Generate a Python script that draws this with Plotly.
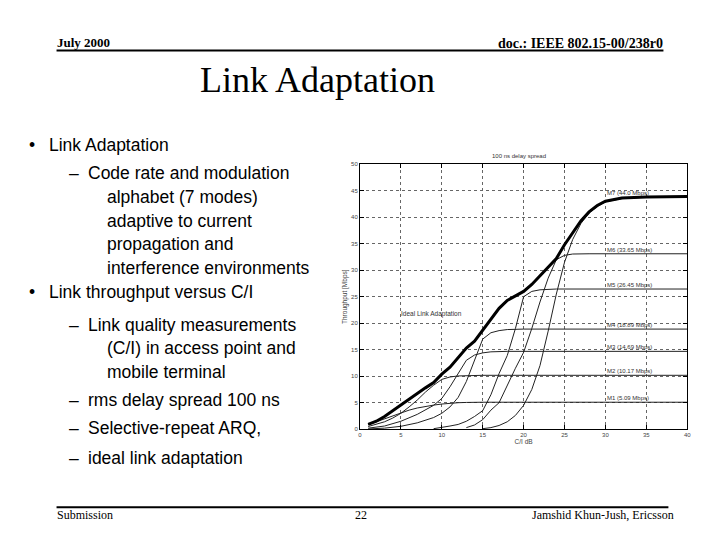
import plotly.graph_objects as go

# ---------------- data ----------------
ideal_x = list(range(1, 31)) + [32, 35, 40]
ideal_y = [0.9, 1.5, 2.4, 3.5, 4.6, 5.6, 6.8, 7.8, 8.8, 10.4,
           11.7, 13.6, 15.3, 16.6, 18.7, 20.8, 22.8, 24.3, 25.2, 26.0,
           27.3, 29.0, 30.6, 32.2, 34.8, 37.1, 39.3, 41.0, 42.2, 43.0,
           43.6, 43.8, 43.9]

m1_x = [1, 2, 3, 4, 5, 6, 7, 8, 9, 10, 11, 12, 13, 15, 40]
m1_y = [0.85, 1.4, 2.0, 2.6, 3.1, 3.6, 4.0, 4.3, 4.55, 4.75, 4.9, 5.0, 5.05, 5.09, 5.09]

m2_x = [1, 2, 3, 4, 5, 6, 7, 8, 9, 10, 11, 12, 13, 15, 40]
m2_y = [0.5, 0.9, 1.4, 2.1, 3.0, 4.2, 5.5, 7.0, 8.3, 9.4, 9.85, 10.05, 10.12, 10.17, 10.17]

m3_x = [1, 3, 5, 7, 9, 10, 11, 12, 13, 14, 15, 16, 18, 40]
m3_y = [0.2, 0.6, 1.5, 2.8, 4.5, 5.8, 8.0, 10.5, 13.0, 14.0, 14.4, 14.6, 14.69, 14.69]

m4_x = [1, 3, 5, 7, 9, 10, 11, 12, 13, 14, 15, 16, 17, 18, 20, 40]
m4_y = [0.05, 0.2, 0.55, 1.2, 2.2, 3.0, 4.2, 6.0, 9.0, 13.0, 17.0, 18.2, 18.6, 18.8, 18.89, 18.89]

m5_x = [9, 10, 11, 12, 13, 14, 15, 16, 17, 18, 19, 20, 21, 22, 24, 40]
m5_y = [0.1, 0.3, 0.6, 0.9, 1.5, 2.4, 3.5, 6.5, 10.5, 13.9, 19.0, 25.0, 26.0, 26.3, 26.45, 26.45]

m6_x = [13, 14, 15, 16, 17, 18, 19, 20, 21, 22, 23, 24, 25, 26, 28, 40]
m6_y = [0.3, 0.8, 1.8, 3.6, 5.0, 8.3, 11.5, 14.5, 19.0, 24.0, 28.5, 32.0, 32.8, 33.05, 33.1, 33.1]

m7_x = [15, 16, 17, 18, 19, 20, 21, 22, 23, 24, 25, 26, 27, 28, 29, 30, 32, 35, 40]
m7_y = [0.1, 0.3, 0.7, 1.4, 2.6, 4.5, 7.5, 12.0, 18.5, 25.5, 31.5, 35.8, 38.8, 40.8, 42.0, 42.9, 43.5, 43.8, 43.9]

mode_labels = ["M1 (5.09 Mbps)", "M2 (10.17 Mbps)", "M3 (14.69 Mbps)", "M4 (18.89 Mbps)",
               "M5 (26.45 Mbps)", "M6 (33.65 Mbps)", "M7 (44.0 Mbps)"]
mode_levels = [5.09, 10.17, 14.69, 18.89, 26.45, 33.1, 43.9]

x_ticks = [0, 5, 10, 15, 20, 25, 30, 35, 40]
y_ticks = [0, 5, 10, 15, 20, 25, 30, 35, 40, 45, 50]

bullet_lines = [
    ("•", "Link Adaptation", 0),
    ("–", "Code rate and modulation", 1),
    ("", "alphabet (7 modes)", 2),
    ("", "adaptive to current", 2),
    ("", "propagation and", 2),
    ("", "interference environments", 2),
    ("•", "Link throughput versus C/I", 0),
    ("–", "Link quality measurements", 1),
    ("", "(C/I) in access point and", 2),
    ("", "mobile terminal", 2),
    ("–", "rms delay spread 100 ns", 1),
    ("–", "Selective-repeat ARQ,", 1),
    ("–", "ideal link adaptation", 1),
]
bullet_y = [144, 172, 196, 220, 244, 268, 292, 326, 349, 373, 401, 430, 460]

# ---------------- figure ----------------
W, H = 720, 540
fig = go.Figure()

modes = [(m1_x, m1_y), (m2_x, m2_y), (m3_x, m3_y), (m4_x, m4_y),
         (m5_x, m5_y), (m6_x, m6_y), (m7_x, m7_y)]
for (xs, ys), name in zip(modes, mode_labels):
    fig.add_trace(go.Scatter(x=xs, y=ys, mode="lines", name=name,
                             line=dict(color="#222222", width=1), showlegend=False))
fig.add_trace(go.Scatter(x=ideal_x, y=ideal_y, mode="lines", name="Ideal Link Adaptation",
                         line=dict(color="black", width=3), showlegend=False))

for lab, lev in zip(mode_labels, mode_levels):
    fig.add_annotation(x=30, y=lev, text=lab, xref="x", yref="y", showarrow=False,
                       xanchor="left", yanchor="bottom", yshift=-1,
                       font=dict(family="Liberation Sans", size=6, color="#333333"))
fig.add_annotation(x=4.8, y=21.8, text="Ideal Link Adaptation", xref="x", yref="y",
                   showarrow=False, xanchor="left", yanchor="middle",
                   font=dict(family="Liberation Sans", size=6.5, color="#333333"))

px0, px1 = 361, 691
py_top, py_bot = 163, 431
axis_common = dict(showline=True, linecolor="black", linewidth=1, mirror="allticks",
                   ticks="inside", ticklen=4, tickcolor="black",
                   showgrid=True, gridcolor="#666666", griddash="dot", gridwidth=1,
                   zeroline=False,
                   tickfont=dict(family="Liberation Sans", size=6, color="#444444"))
fig.update_layout(
    width=W, height=H,
    margin=dict(l=0, r=0, t=0, b=0),
    paper_bgcolor="white", plot_bgcolor="white",
    xaxis=dict(range=[0, 40], tickvals=x_ticks, domain=[px0 / W, px1 / W],
               title=dict(text="C/I dB", standoff=2,
                          font=dict(family="Liberation Sans", size=6.5, color="#444444")),
               **axis_common),
    yaxis=dict(range=[0, 50], tickvals=y_ticks, domain=[1 - py_bot / H, 1 - py_top / H],
               title=dict(text="Throughput [Mbps]", standoff=2,
                          font=dict(family="Liberation Sans", size=6.5, color="#444444")),
               **axis_common),
)

# chart title
fig.add_annotation(x=521 / W, y=1 - 155 / H, xref="paper", yref="paper", text="100 ns delay spread",
                   showarrow=False, xanchor="center", yanchor="middle",
                   font=dict(family="Liberation Sans", size=6, color="#333333"))

# ---------------- slide decorations ----------------
serif = "Liberation Serif"
sans = "Liberation Sans"


def ptext(x, y, text, size, family, anchor="left", bold=False, color="black"):
    fig.add_annotation(x=x / W, y=1 - y / H, xref="paper", yref="paper",
                       text=f"<b>{text}</b>" if bold else text, showarrow=False,
                       xanchor=anchor, yanchor="middle",
                       font=dict(family=family, size=size, color=color))


ptext(53, 40, "July 2000", 13, serif, bold=True)
ptext(669, 41, "doc.: IEEE 802.15-00/238r0", 14, serif, anchor="right", bold=True)
fig.add_shape(type="line", xref="paper", yref="paper", x0=55 / W, x1=667 / W,
              y0=1 - 48 / H, y1=1 - 48 / H, line=dict(color="black", width=2))
ptext(318, 78, "Link Adaptation", 36, serif, anchor="center")

indent = {0: (25, 45), 1: (66, 85), 2: (None, 104)}
for (mark, txt, lvl), yy in zip(bullet_lines, bullet_y):
    mx, tx = indent[lvl]
    if mark:
        ptext(mx, yy, mark, 17.5, sans)
    ptext(tx, yy, txt, 17.5, sans)

fig.add_shape(type="line", xref="paper", yref="paper", x0=55 / W, x1=672 / W,
              y0=1 - 510 / H, y1=1 - 510 / H, line=dict(color="black", width=2))
ptext(53, 518, "Submission", 12, serif)
ptext(362, 518, "22", 12, serif, anchor="center")
ptext(680, 518, "Jamshid Khun-Jush, Ericsson", 12, serif, anchor="right")

fig.write_html("out.html", config={"displayModeBar": False},
               post_script="document.body.style.margin='0';")
